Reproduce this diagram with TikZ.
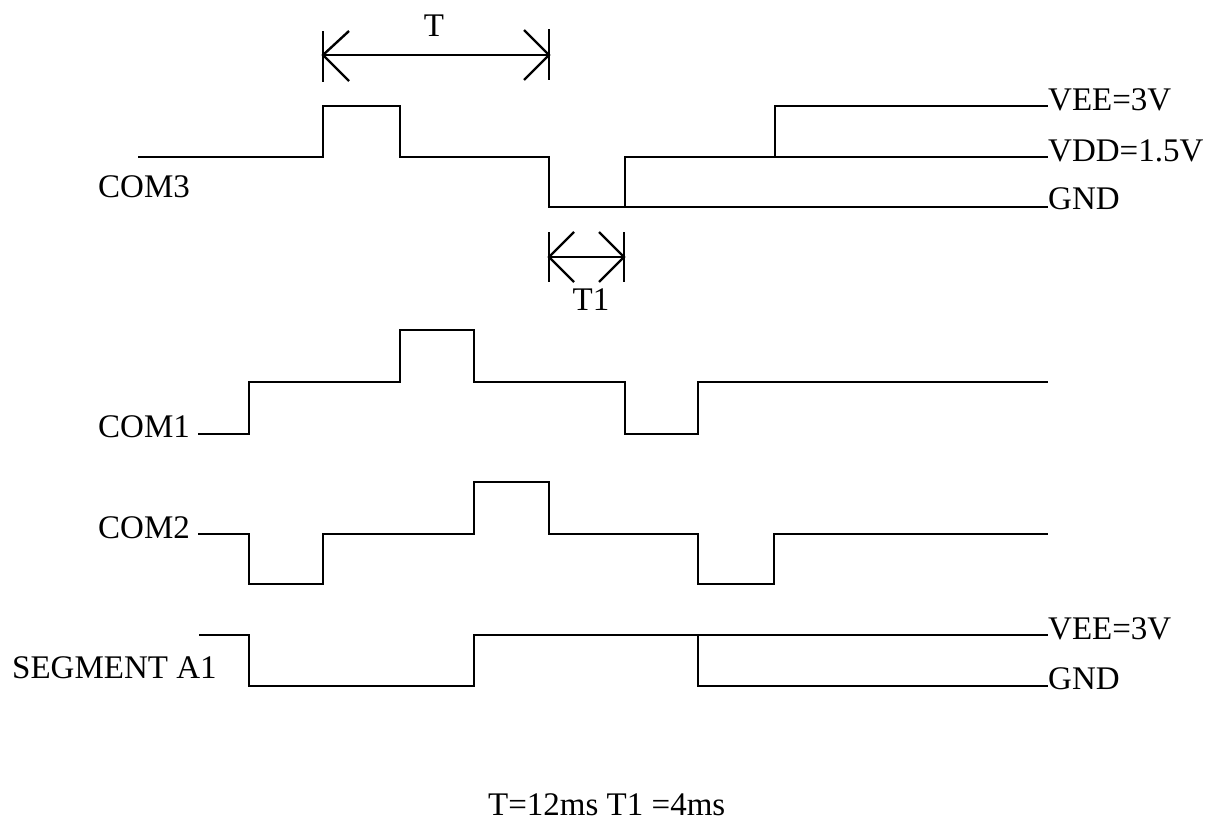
\documentclass[tikz,border=0pt]{standalone}
\usepackage{fontspec}
\setmainfont{Liberation Serif}
\begin{document}
\begin{tikzpicture}[x=1pt,y=-1pt,
  wave/.style={line width=2.5pt,line join=miter,line cap=butt},
  lbl/.style={inner sep=0pt,font=\fontsize{33}{40}\selectfont},
  dim/.style={line width=2.4pt}]
\useasboundingbox (0,0) rectangle (1220,830);
% ---- COM3
\draw[wave] (138,157) -- (323,157) -- (323,106) -- (400,106) -- (400,157) -- (549,157)
  -- (549,207) -- (625,207) -- (625,157) -- (1048,157);
\draw[wave] (598,207) -- (1048,207);
\draw[wave] (775,157) -- (775,106) -- (1048,106);
\node[lbl,anchor=base west] (com3) at (98,197) {COM3};
\node[lbl,anchor=base west] (vee1) at (1048,110) {VEE=3V};
\node[lbl,anchor=base west] (vdd1) at (1048,161) {VDD=1.5V};
\node[lbl,anchor=base west] (gnd1) at (1048,209) {GND};
% ---- T dimension
\coordinate (ta) at (323,55);
\coordinate (tb) at (549,55);
\draw[dim] (323,31) -- (323,82);
\draw[dim] (549,29) -- (549,80);
\draw[dim] (ta) -- (tb);
\draw[dim] (349,31) -- (ta) -- (349,81);
\draw[dim] (524,30) -- (tb) -- (524,80);
\node[lbl,anchor=base] (tl) at (434,36) {T};
% ---- T1 dimension
\coordinate (t1a) at (549,257);
\coordinate (t1b) at (624,257);
\draw[dim] (549,232) -- (549,282);
\draw[dim] (624,232) -- (624,282);
\draw[dim] (t1a) -- (t1b);
\draw[dim] (574,232) -- (t1a) -- (574,282);
\draw[dim] (599,232) -- (t1b) -- (599,282);
\node[lbl,anchor=base] (t1l) at (591,310) {T1};
% ---- COM1
\draw[wave] (198,434) -- (249,434) -- (249,382) -- (400,382) -- (400,330) -- (474,330)
  -- (474,382) -- (625,382) -- (625,434) -- (698,434) -- (698,382) -- (1048,382);
\node[lbl,anchor=base west] (com1) at (98,437) {COM1};
% ---- COM2
\draw[wave] (198,534) -- (249,534) -- (249,584) -- (323,584) -- (323,534) -- (474,534)
  -- (474,482) -- (549,482) -- (549,534) -- (698,534) -- (698,584) -- (774,584)
  -- (774,534) -- (1048,534);
\node[lbl,anchor=base west] (com2) at (98,538) {COM2};
% ---- SEGMENT A1
\draw[wave] (199,635) -- (249,635) -- (249,686) -- (474,686) -- (474,635) -- (1048,635);
\draw[wave] (698,635) -- (698,686) -- (1048,686);
\node[lbl,anchor=base west] (seg) at (12,678) {SEGMENT A1};
\node[lbl,anchor=base west] (vee2) at (1048,639) {VEE=3V};
\node[lbl,anchor=base west] (gnd2) at (1048,689) {GND};
% ---- note
\node[lbl,anchor=base west] (note) at (488,815) {T=12ms T1 =4ms};
\end{tikzpicture}
\end{document}
